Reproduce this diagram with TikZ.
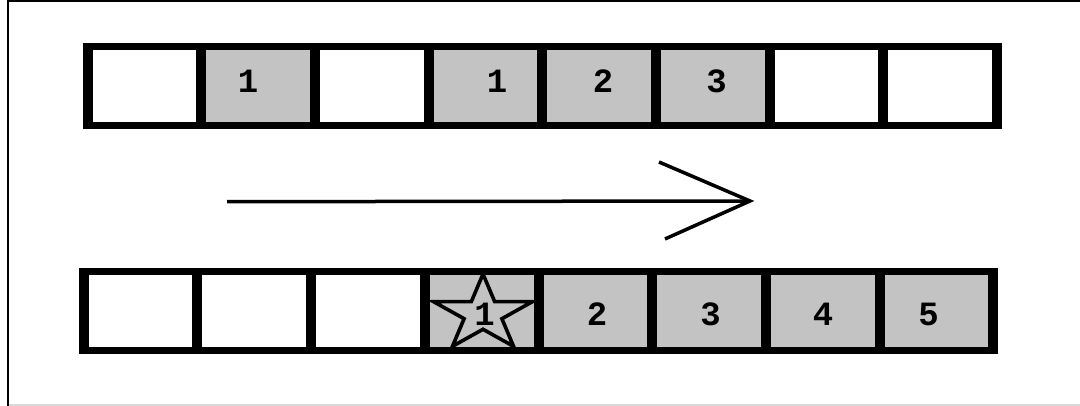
\documentclass[tikz,border=0pt]{standalone}
\usepackage{fontspec}
\setmonofont{Liberation Mono}
\definecolor{cellgray}{RGB}{195,195,195}
\begin{document}
\begin{tikzpicture}[x=1pt,y=-1pt,
  cellbox/.style={minimum width=103.7pt, minimum height=72pt, inner sep=0pt, draw=none},
  cellg/.style={cellbox, fill=cellgray},
  cellw/.style={cellbox, fill=white},
  num/.style={font=\ttfamily\bfseries\fontsize{34}{34}\selectfont, inner sep=0pt, anchor=center},
  arrowline/.style={line width=3.5pt, line cap=butt},
  starline/.style={line width=3.6pt, line join=miter}]
\useasboundingbox (0,0) rectangle (1080,406);
\fill[white] (0,0) rectangle (1080,406);
% frame
\draw[line width=2pt] (7.8,406) -- (7.8,1) -- (1080,1);
\draw[line width=1.5pt, black!15] (8.8,405.2) -- (1080,405.2);
% row backgrounds (the black grid lines)
\fill[black] (83,43) rectangle (1002,129);
\fill[black] (79,268) rectangle (998,354.5);
% top row cells
\foreach \i/\s in {1/cellw,2/cellg,3/cellw,4/cellg,5/cellg,6/cellg,7/cellw,8/cellw}
  \node[\s] (t\i) at ({87.5+113.7*(\i-0.5)},86) {};
% bottom row cells
\foreach \i/\s in {1/cellw,2/cellw,3/cellw,4/cellg,5/cellg,6/cellg,7/cellg,8/cellg}
  \node[\s] (b\i) at ({83.7+113.7*(\i-0.5)},311) {};
% star
\draw[starline] (483,274) -- (471.33,301.64) -- (433.54,301.64) -- (464.11,318.72)
  -- (452.43,346.36) -- (483,329.28) -- (513.57,346.36) -- (501.89,318.72)
  -- (532.46,301.64) -- (494.67,301.64) -- cycle;
% top row numbers
\node[num] (tn2) at (248,81) {1};
\node[num] (tn4) at (497,81) {1};
\node[num] (tn5) at (603,81) {2};
\node[num] (tn6) at (716.5,81) {3};
% bottom row numbers
\node[num] (bn4) at (484.5,314) {1};
\node[num] (bn5) at (597,314) {2};
\node[num] (bn6) at (710.5,314) {3};
\node[num] (bn7) at (823,314) {4};
\node[num] (bn8) at (928.5,314) {5};
% arrow
\coordinate (arrS) at (227,201.7);
\coordinate (arrT) at (750,201);
\coordinate (arrU) at (659,162);
\coordinate (arrL) at (665,239);
\draw[arrowline] (arrS) -- (arrT);
\draw[arrowline, line join=miter] (arrU) -- (arrT) -- (arrL);
\end{tikzpicture}
\end{document}
